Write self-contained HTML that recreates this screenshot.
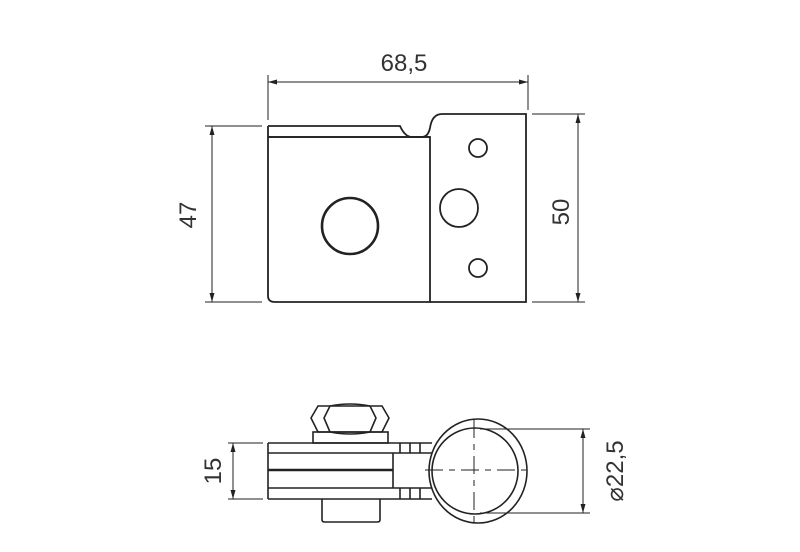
<!DOCTYPE html>
<html><head><style>body{margin:0;background:#fff}svg{display:block}text{font-family:"Liberation Sans",sans-serif;fill:#333}</style></head>
<body>
<svg width="800" height="552" viewBox="0 0 800 552" fill="none" stroke="#222" stroke-width="1.3">
<g stroke-width="1.8">
<path d="M268 126 H400 Q405 137 412 137 H422 Q428 137 430 128 Q432 114 442 114 H526 V302 H430"/>
<path d="M268 126 V296 Q268 302 275 302 H430 V137 H268"/>
<path d="M268 137 H430"/>
<circle cx="350" cy="226" r="28" stroke-width="2.6"/>
<circle cx="478" cy="148" r="9"/>
<circle cx="459" cy="208" r="19"/>
<circle cx="478" cy="268" r="9"/>
</g>
<g stroke-width="1">
<path d="M268 75 V120 M528 75 V110 M268 82 H528"/>
<path d="M205 126 H262 M205 302 H262 M212 126 V302"/>
<path d="M532 114 H585 M532 302 H585 M578 114 V302"/>
</g>
<g fill="#222" stroke="none">
<path d="M268 82 l9 -2.5 v5z M528 82 l-9 -2.5 v5z"/>
<path d="M212 126 l-2.5 9 h5z M212 302 l-2.5 -9 h5z"/>
<path d="M578 114 l-2.5 9 h5z M578 302 l-2.5 -9 h5z"/>
<path d="M233 443 l-2.5 9 h5z M233 499 l-2.5 -9 h5z"/>
<path d="M583 429 l-2.5 9 h5z M583 513 l-2.5 -9 h5z"/>
</g>
<text x="404" y="71" font-size="24" text-anchor="middle" stroke="none">68,5</text>
<text transform="translate(196,215) rotate(-90)" font-size="24" text-anchor="middle" stroke="none">47</text>
<text transform="translate(569,212) rotate(-90)" font-size="24" text-anchor="middle" stroke="none">50</text>
<g stroke-width="1.6">
<path d="M318 406 H382 L389 418 L382 432 H318 L311 418 Z"/>
<path d="M330 406 L324 418 L330 432 M370 406 L376 418 L370 432 M330 406 Q350 402 370 406 M330 432 Q350 436 370 432"/>
<rect x="313" y="432" width="75" height="11"/>
<path d="M268 443 H432 M268 499 H432 M268 443 V499 M268 453 H393 M268 488 H393 M393 453 V488 M393 453 H432 M393 488 H432"/>
<path d="M268 470 H393" stroke-width="2.4"/>
<path d="M400 443 V453 M410 443 V453 M420 443 V453 M400 488 V499 M410 488 V499 M420 488 V499"/>
<path d="M322 499 V520 Q322 522 325 522 H377 Q380 522 380 520 V499"/>
<ellipse cx="478" cy="471" rx="49" ry="52"/>
<circle cx="475" cy="471" r="43"/>
</g>
<path d="M474 420 V524 M425 470 H526" stroke-width="1" stroke-dasharray="18 6 6 6"/>
<g stroke-width="1">
<path d="M228 443 H263 M228 499 H263 M233 443 V499"/>
<path d="M480 429 H590 M480 513 H590 M583 429 V513"/>
</g>
<text transform="translate(221,471) rotate(-90)" font-size="24" text-anchor="middle" stroke="none">15</text>
<text transform="translate(623,471) rotate(-90)" font-size="24" text-anchor="middle" stroke="none">⌀22,5</text>
</svg>
</body></html>
